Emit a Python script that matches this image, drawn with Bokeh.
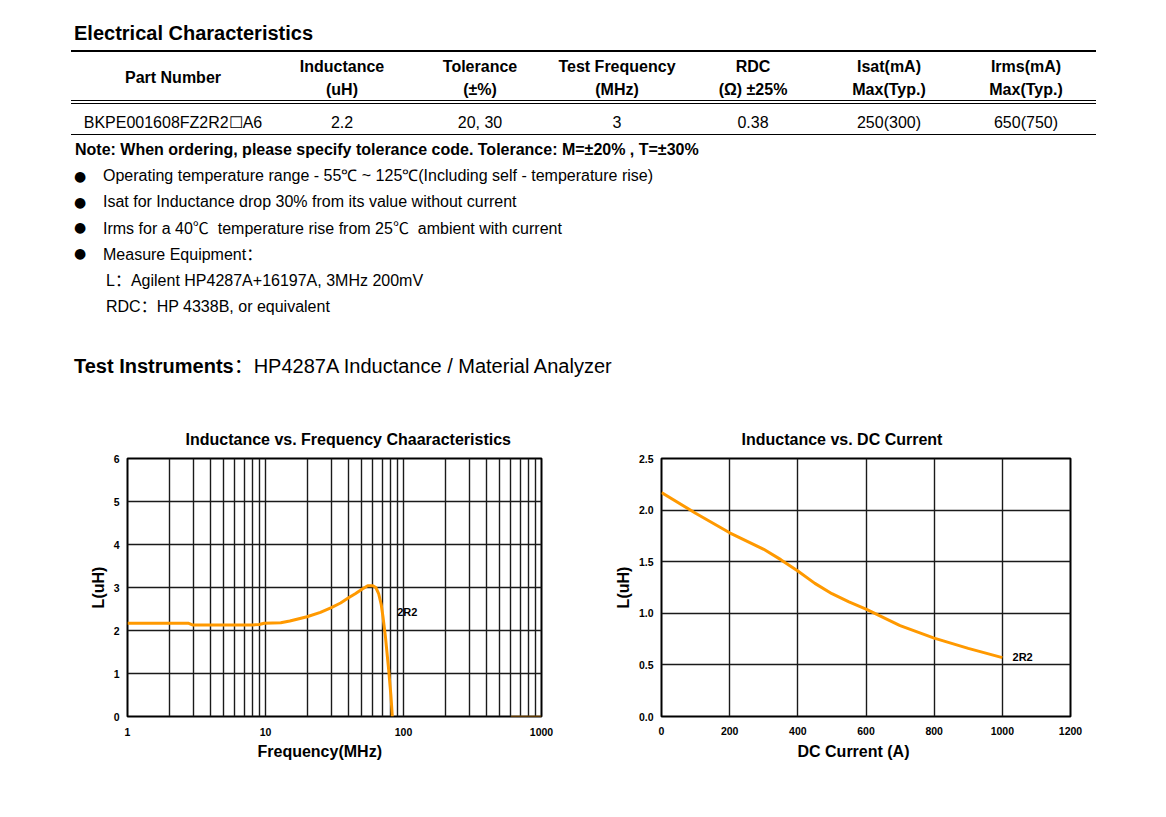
from bokeh.plotting import figure
from bokeh.models import Div, Range1d, FixedTicker, PrintfTickFormatter, Title
from bokeh.layouts import column, row
from bokeh.embed import file_html
from bokeh.resources import INLINE
from bokeh.core.properties import value

FONT = "Liberation Sans"
ORANGE = "#FF9900"
CJK = "<span style=\"font-family:'Noto Sans CJK SC';\">{}</span>"

# ---------------- data ----------------
page_title = "Electrical Characteristics"
part_header = "Part Number"
col_headers_1 = ["Inductance", "Tolerance", "Test Frequency", "RDC", "Isat(mA)", "Irms(mA)"]
col_headers_2 = ["(uH)", "(±%)", "(MHz)", "(Ω) ±25%", "Max(Typ.)", "Max(Typ.)"]
row_values = ["BKPE001608FZ2R2☐A6", "2.2", "20, 30", "3", "0.38", "250(300)", "650(750)"]
note_text = "Note: When ordering, please specify tolerance code. Tolerance: M=±20% , T=±30%"
bullets = [
    "Operating temperature range - 55℃ ~ 125℃(Including self - temperature rise)",
    "Isat for Inductance drop 30% from its value without current",
    "Irms for a 40" + CJK.format("℃") + "&nbsp; temperature rise from 25" + CJK.format("℃") + "&nbsp; ambient with current",
    "Measure Equipment" + CJK.format("：") + "",
]
sub_lines = ["L" + CJK.format("：") + "Agilent HP4287A+16197A, 3MHz 200mV",
             "RDC" + CJK.format("：") + "HP 4338B, or equivalent"]
instr_bold = "Test Instruments"
instr_rest = "HP4287A Inductance / Material Analyzer"

# Inductance vs frequency
freq_mhz = [1, 2, 2.75, 2.95, 5, 8, 9.0, 9.8, 12.9, 15, 20, 25, 30, 35, 40, 45, 50, 55,
            60, 63, 66, 69, 71, 74, 78, 81, 83]
freq_L = [2.17, 2.17, 2.17, 2.13, 2.13, 2.13, 2.14, 2.17, 2.18, 2.22, 2.32, 2.42, 2.53, 2.64,
          2.76, 2.86, 2.96, 3.04, 3.04, 3.00, 2.86, 2.60, 2.32, 1.85, 1.10, 0.50, 0.0]
tail_freq = [600, 1000]
tail_L = [0.0, 0.0]
freq_major = [1, 10, 100, 1000]
freq_minor = [2, 3, 4, 5, 6, 7, 8, 9, 20, 30, 40, 50, 60, 70, 80, 90,
              200, 300, 400, 500, 600, 700, 800, 900]
freq_yticks = [0, 1, 2, 3, 4, 5, 6]
freq_label_x = [90]
freq_label_y = [2.43]

# Inductance vs DC current
dc_current = [0, 100, 200, 300, 350, 400, 450, 500, 550, 600, 700, 800, 900, 1000]
dc_L = [2.17, 1.97, 1.78, 1.62, 1.52, 1.41, 1.29, 1.19, 1.11, 1.04, 0.88, 0.76, 0.66, 0.57]
dc_xticks = [0, 200, 400, 600, 800, 1000, 1200]
dc_yticks = [0.0, 0.5, 1.0, 1.5, 2.0, 2.5]
dc_label_x = [1030]
dc_label_y = [0.58]

# ---------------- top text block (HTML) ----------------
def txt(x, cy, s, size, bold=False, align="left", family=None):
    lh = round(size * 1.25)
    top = cy - lh / 2
    if align == "center":
        pos = f"left:{x - 150}px;width:300px;text-align:center;"
    else:
        pos = f"left:{x}px;"
    fw = "bold" if bold else "normal"
    ff = f"font-family:'{family}';" if family else ""
    return (f'<div style="position:absolute;{pos}top:{top}px;font-size:{size}px;{ff}'
            f'line-height:{lh}px;font-weight:{fw};white-space:nowrap;">{s}</div>')

def hline(x0, x1, y, t):
    return (f'<div style="position:absolute;left:{x0}px;top:{y}px;width:{x1 - x0}px;'
            f'height:{t}px;background:#000;"></div>')

col_x = [173, 342, 480, 617, 753, 889, 1026]
parts = []
parts.append(txt(74, 33, page_title, 20, True))
parts.append(hline(71, 1096, 50, 2))
parts.append(txt(col_x[0], 78, part_header, 16, True, "center"))
for cx, h1, h2 in zip(col_x[1:], col_headers_1, col_headers_2):
    parts.append(txt(cx, 67, h1, 16, True, "center"))
    parts.append(txt(cx, 90, h2, 16, True, "center"))
parts.append(hline(71, 1096, 100, 1))
parts.append(hline(71, 1096, 103, 1))
for cx, v in zip(col_x, row_values):
    parts.append(txt(cx, 123, v, 16, False, "center"))
parts.append(hline(71, 1096, 134, 1))
parts.append(txt(75, 150, note_text, 16, True))
for cy, b in zip([176, 202, 227, 253], bullets):
    parts.append(txt(74, cy, "●", 14, family="DejaVu Sans"))
    parts.append(txt(103, cy, b, 16))
for cy, s in zip([279, 305], sub_lines):
    parts.append(txt(106, cy, s, 16))
parts.append(txt(74, 364, f'<b>{instr_bold}</b>' + CJK.format("：") + instr_rest, 20))

html = (f'<div style="position:relative;width:1158px;height:400px;font-family:\'{FONT}\',Arial,sans-serif;'
        f'color:#000;">' + "".join(parts) + "</div>")
top_div = Div(text=html, width=1158, height=400, margin=0)

# ---------------- charts ----------------
def style(p):
    p.outline_line_color = "black"
    p.outline_line_width = 2
    p.background_fill_color = "white"
    p.border_fill_color = "white"
    for ax in [p.xaxis[0], p.yaxis[0]]:
        ax.axis_line_color = None
        ax.major_tick_line_color = None
        ax.minor_tick_line_color = None
        ax.major_tick_out = 0
        ax.major_tick_in = 0
        ax.major_label_text_font = FONT
        ax.major_label_text_font_style = "bold"
        ax.major_label_text_font_size = "10.5px"
        ax.major_label_text_color = "black"
        ax.axis_label_text_font = FONT
        ax.axis_label_text_font_style = "bold"
        ax.axis_label_text_font_size = "16px"
        ax.axis_label_text_color = "black"
    p.xaxis.major_label_standoff = 7
    p.yaxis.major_label_standoff = 8
    p.yaxis.axis_label_standoff = 4
    p.title.text_font = FONT
    p.title.text_font_style = "bold"
    p.title.text_font_size = "16px"
    p.title.text_color = "black"
    p.title.align = "left"
    p.title.standoff = 21
    for g in [p.xgrid[0], p.ygrid[0]]:
        g.grid_line_color = "#1a1a1a"
        g.grid_line_width = 1.4

def xlabel(p, text, off, standoff):
    p.add_layout(Title(text=text, align="left", offset=off, text_font=FONT, text_color="black",
                       text_font_style="bold", text_font_size="16px", standoff=standoff), "below")

# Left chart
p1 = figure(width=581, height=377, x_axis_type="log", x_range=Range1d(1, 1000), y_range=Range1d(0, 6),
            output_backend="svg", toolbar_location=None, min_border_left=127, min_border_right=40,
            min_border_top=58, min_border_bottom=60, margin=0,
            title="Inductance vs. Frequency Chaaracteristics")
style(p1)
p1.title.offset = 58
tk1 = FixedTicker(ticks=freq_major, minor_ticks=freq_minor)
p1.xaxis.ticker = tk1
p1.xgrid.ticker = tk1
p1.xaxis.formatter = PrintfTickFormatter(format="%d")
p1.xgrid.minor_grid_line_color = "#1a1a1a"
p1.xgrid.minor_grid_line_width = 1.4
p1.yaxis.ticker = FixedTicker(ticks=freq_yticks)
p1.ygrid.ticker = FixedTicker(ticks=freq_yticks)
p1.yaxis.axis_label = "L(uH)"
xlabel(p1, "Frequency(MHz)", 130, 4)
p1.line(tail_freq, tail_L, line_color=ORANGE, line_width=1.5, line_alpha=0.7)
p1.line(freq_mhz, freq_L, line_color=ORANGE, line_width=3)
p1.text(x=freq_label_x, y=freq_label_y, text=["2R2"], text_font=value(FONT), text_font_style="bold",
        text_font_size="11px", text_baseline="middle", text_align="left", text_color="black")

# Right chart
p2 = figure(width=519, height=377, x_range=Range1d(0, 1200), y_range=Range1d(0, 2.5),
            output_backend="svg", toolbar_location=None, min_border_left=80, min_border_right=30,
            min_border_top=57, min_border_bottom=61, margin=0,
            title="Inductance vs. DC Current")
style(p2)
p2.title.offset = 80
p2.xaxis.major_label_standoff = 10
p2.xaxis.ticker = FixedTicker(ticks=dc_xticks)
p2.xgrid.ticker = FixedTicker(ticks=dc_xticks)
p2.yaxis.ticker = FixedTicker(ticks=dc_yticks)
p2.ygrid.ticker = FixedTicker(ticks=dc_yticks)
p2.yaxis.formatter = PrintfTickFormatter(format="%.1f")
p2.yaxis.axis_label = "L(uH)"
xlabel(p2, "DC Current (A)", 136, 6)
p2.line(dc_current, dc_L, line_color=ORANGE, line_width=3)
p2.text(x=dc_label_x, y=dc_label_y, text=["2R2"], text_font=value(FONT), text_font_style="bold",
        text_font_size="11px", text_baseline="middle", text_align="left", text_color="black")

layout = column(top_div, row(p1, p2, margin=0, spacing=0), margin=0, spacing=0)
open("out.html", "w").write(file_html(layout, INLINE))
